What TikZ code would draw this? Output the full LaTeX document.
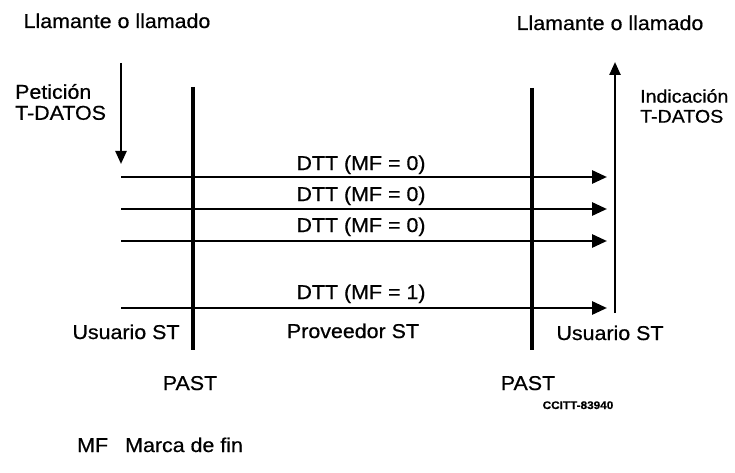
\documentclass[tikz,border=0pt]{standalone}
\usepackage{fontspec}
\setmainfont[FakeStretch=1.07,FakeBold=0.6]{Liberation Sans}
\usetikzlibrary{arrows.meta}
\begin{document}
\begin{tikzpicture}[x=1pt,y=-1pt,
  lbl/.style={font=\fontsize{20}{21}\selectfont, inner sep=0pt, anchor=base},
  two/.style={font=\fontsize{20}{21}\selectfont, inner sep=0pt, align=left, anchor=west},
  msg/.style={line width=2.8pt, -{Triangle[length=15pt,width=13pt]}},
  prim/.style={line width=2.4pt, -{Triangle[length=13pt,width=11pt]}},
  bar/.style={line width=3.8pt}]
\useasboundingbox (0,0) rectangle (735,473);
% titles
\node[lbl] (tl) at (117,28) {Llamante o llamado};
\node[lbl] (tr) at (610,30) {Llamante o llamado};
% primitives
\node[two] (pet) at (15,102) {Petición\\T-DATOS};
\node[two, font=\fontsize{18.3}{20}\selectfont] (ind) at (640,106) {Indicación\\T-DATOS};
\coordinate (da) at (121,63);
\coordinate (db) at (121,164);
\draw[prim] (da) -- (db);
\coordinate (ua) at (615,313);
\coordinate (ub) at (615,62);
\draw[prim] (ua) -- (ub);
% PAST bars
\coordinate (lt) at (193,87);
\coordinate (lb) at (193,350);
\coordinate (rt) at (532,88);
\coordinate (rb) at (532,350);
\draw[bar] (lt) -- (lb);
\draw[bar] (rt) -- (rb);
% messages
\foreach \i/\y in {1/177,2/209,3/241,4/308}{
  \coordinate (s\i) at (121,\y);
  \coordinate (e\i) at (607,\y);
  \draw[msg] (s\i) -- (e\i);
}
\node[lbl] (m1) at (361,170) {DTT (MF = 0)};
\node[lbl] (m2) at (361,201) {DTT (MF = 0)};
\node[lbl] (m3) at (361,232) {DTT (MF = 0)};
\node[lbl] (m4) at (361,299) {DTT (MF = 1)};
% bottom labels
\node[lbl] (ul) at (126,339) {Usuario ST};
\node[lbl] (pv) at (353,338) {Proveedor ST};
\node[lbl] (ur) at (610,340) {Usuario ST};
\node[lbl] (pl) at (190,390) {PAST};
\node[lbl] (pr) at (528,390) {PAST};
\node[inner sep=0pt, anchor=base, font=\fontsize{11}{12}\selectfont\bfseries] (cc) at (578,409) {CCITT-83940};
\node[inner sep=0pt, anchor=base west, font=\fontsize{20}{21}\selectfont] (mf) at (77,452) {MF};
\node[inner sep=0pt, anchor=base west, font=\fontsize{20}{21}\selectfont] (mfd) at (125,452) {Marca de fin};
\end{tikzpicture}
\end{document}
